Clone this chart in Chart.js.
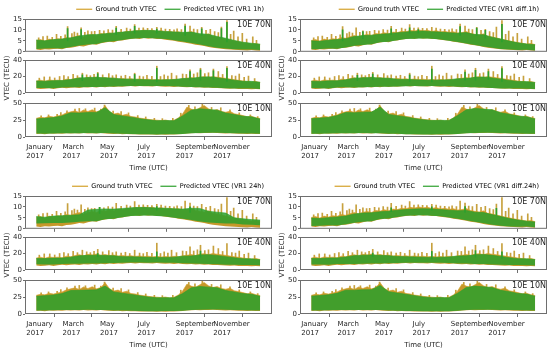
<!DOCTYPE html>
<html><head><meta charset="utf-8">
<script src="https://cdn.jsdelivr.net/npm/chart.js@4"></script>
<style>
html,body{margin:0;padding:0;background:#fff;width:550px;height:353px;overflow:hidden;position:relative;}
canvas{position:absolute;}
</style></head><body>
<script>
// ---------- axis / category data ----------
const TICK_DAYS = [0, 59, 120, 181, 243, 304, 365];
const TICK_LABELS = [['January','2017'],['March','2017'],['May','2017'],['July','2017'],['September','2017'],['November','2017'],''];
const DAYS_W = [0,7,14,21,28,35,42,49,56,63,70,77,84,91,98,105,112,119,126,133,140,147,154,161,168,175,182,189,196,203,210,217,224,231,238,245,252,259,266,273,280,287,294,301,308,315,322,329,336,343,350,357,364];
const DAYS_2W = [0,14,28,42,56,70,84,98,112,126,140,154,168,182,196,210,224,238,252,266,280,294,308,322,336,350,364];
const LAT_LABELS = ['10E 70N','10E 40N','10E 10N'];
const Y_MAX = [15, 40, 50];
const Y_STEP = [5, 20, 25];

// ---------- ground truth (weekly daily-max / daily-min envelope) ----------
const GT70_UP = [5.2,5.6,4.9,5.8,5.4, 6.0,5.7,6.5,6.2, 6.9,7.4,6.8,7.6, 7.9,7.5,8.4,8.1, 8.7,8.3,9.0,8.8,9.4, 9.2,9.8,9.5,10.0, 9.6,9.9,9.3,9.7,9.1, 9.4,8.9,9.2,8.6, 8.8,9.3,8.4,8.0, 7.7,8.2,7.1,6.8,6.3, 5.9,5.4,5.0,4.6, 4.2,3.9,3.6,3.8,3.3];
const GT70_LO = [1.0,0.8,1.2,1.0,1.3, 1.4,1.2,1.7,1.9, 2.2,2.6,2.4,3.0, 3.4,3.2,3.9,4.3, 4.6,4.4,5.0,5.2,5.6, 5.8,6.1,5.9,6.3, 6.0,6.2,5.8,5.9,5.5, 5.3,5.0,4.6,4.4, 4.0,3.7,3.2,3.0, 2.6,2.2,1.9,1.6,1.4, 1.2,1.0,0.9,0.8, 0.7,0.6,0.8,0.6,0.5];
const GT40_UP = [14.5,15.6,14.2,15.9,15.2, 15.6,14.9,16.8,16.1, 17.5,18.6,17.2,19.0, 18.3,19.4,17.9,18.8, 17.6,18.2,16.9,17.7,16.8, 17.3,16.5,17.1,16.2, 16.8,15.9,16.6,15.7,16.3, 15.8,16.7,16.0,17.2, 17.9,18.8,17.6,19.3, 19.8,18.7,20.1,19.2,18.5, 17.8,16.9,16.2,15.4, 14.6,13.9,13.2,14.0,12.8];
const GT40_LO = [5.5,4.8,5.2,5.8,5.0, 5.9,6.3,5.7,6.5, 6.8,6.2,7.0,6.6, 7.2,6.8,7.5,7.1, 7.8,7.3,8.0,7.6,8.2, 8.4,7.9,8.6,8.1, 8.3,7.8,8.5,8.0,7.7, 7.9,7.4,7.8,7.2, 7.0,7.4,6.8,7.1, 6.5,6.8,6.2,6.0,5.7, 5.5,5.1,5.4,4.9, 4.7,5.0,4.5,4.8,4.4];
const GT10_UP = [27.5,29.0,28.2,30.5,29.4, 31.0,32.5,35.5,37.0, 38.5,36.0,39.8,37.5, 40.2,37.0,39.0,46.0, 37.5,33.8,35.2,32.0,33.5, 30.2,29.5,27.8,27.0, 26.0,25.2,24.8,24.2,25.0, 23.6,24.8,28.0,34.0, 44.0,41.0,39.5,43.0, 46.5,41.5,39.0,40.5,37.5, 36.5,38.0,34.2,33.0, 31.5,29.8,30.6,28.4,27.2];
const GT10_LO = [4.5,4.8,4.2,5.0,4.6, 5.2,4.9,5.5,5.1, 5.6,5.0,5.8,5.3, 5.5,5.1,5.7,5.2, 4.8,4.5,4.9,4.2,4.4, 3.9,4.1,3.6,3.8, 3.5,3.7,3.3,3.6,3.4, 3.8,3.5,4.0,4.4, 5.0,5.4,5.8,5.5, 6.0,5.7,6.2,5.8,5.5, 5.3,5.6,5.1,4.9, 4.7,4.4,4.8,4.3,4.5];

// ground-truth short excursions (day, start value, peak value)
const GT70_SPK_D = [4,11,18,26,33,40,47,51,58,62,67,73,79,84,90,95,103,110,117,124,130,138,147,153,160,167,174,181,188,196,203,210,217,224,229,236,242,250,256,262,269,276,283,290,296,301,310,316,321,328,335,342,352,358];
const GT70_SPK_B = [4.5,4.5,4.5,4.5,5,5,5,5,5,6,6,6,6,6,6.5,7,7,7,7,7.8,7.8,7.8,7.8,8.5,8.5,8.5,8.5,8.5,8.5,8.5,8.5,8.5,8,8,8,8,7.5,7.5,7.5,7.5,7.5,6.2,6.2,6.2,6.2,6.2,4.5,4.5,4.5,4.5,3.2,3.2,3.2,3.2];
const GT70_SPK_T = [6.4,7.0,7.2,6.6,8.0,7.1,7.8,11.5,8.3,9.0,8.6,11.0,8.9,9.6,9.2,9.4,9.8,9.6,10.2,9.9,11.6,10.3,10.8,10.4,12.4,10.9,11.0,10.7,10.6,11.2,10.8,10.4,10.3,10.0,10.5,10.2,12.7,11.8,10.4,10.2,11.2,9.8,10.3,9.2,8.8,11.3,14.3,8.0,9.5,6.9,8.5,5.8,6.8,5.2];
const GT40_SPK_D = [5,13,22,30,38,45,52,60,67,75,82,88,94,100,108,118,124,130,138,145,152,160,168,174,180,188,196,202,208,214,220,228,238,244,250,256,262,267,274,280,288,296,303,310,318,324,330,338,345,355];
const GT40_SPK_B = [12,12,12,12,13,13,13,15,15,15,15,15,16,16,16,16,15,15,15,15,14,14,14,14,13.5,13.5,13.5,13.5,13.5,14,14,14,14,15.5,15.5,15.5,15.5,15.5,16.5,16.5,16.5,16.5,16.5,14,14,14,14,11.5,11.5,11.5];
const GT40_SPK_T = [18.0,19.5,19.5,18.2,20.0,21.0,19.8,22.5,21.0,24.0,22.0,21.0,22.5,25.0,22.0,23.5,21.0,22.0,20.5,21.5,20.0,24.0,20.5,19.8,21.5,20.2,32.5,20.0,22.0,20.5,24.0,21.0,23.0,22.5,28.0,23.0,24.5,30.0,23.5,24.5,29.0,26.0,22.5,32.0,21.0,20.5,23.0,19.0,20.5,17.5];
const GT10_SPK_D = [8,20,34,40,50,63,70,80,95,105,111,125,138,150,165,178,192,205,222,235,248,258,270,285,300,315,330,348,360];
const GT10_SPK_B = [25,25,27,28,31,33,33,34,35,35,36,31,30,28,25,23,22,21,21,26,36,36,38,36,34,32,30,26,24];
const GT10_SPK_T = [31.0,32.5,33.5,36.0,38.5,41.0,42.0,41.5,42.5,41.0,47.0,38.0,37.5,35.5,31.5,29.5,27.5,27.0,27.5,35.0,46.5,44.5,48.5,43.5,43.0,40.0,35.5,32.5,30.0];

// ---------- predictions, top-left: VR1 1h ----------
const TL_P70_UP = [5.4,5.0,5.6,5.9,6.4,7.2,7.8,7.9,8.3,8.6,9.0,9.4,9.7,9.8,9.6,9.3,9.1,8.9,9.0,8.3,8.0,7.0,6.2,5.2,4.4,3.9,3.5];
const TL_P70_LO = [1.3,1.5,1.6,1.5,2.2,2.9,3.3,3.6,4.5,4.8,5.4,6.0,6.2,6.3,6.1,5.8,5.3,4.7,4.0,3.3,2.5,1.9,1.5,1.2,1.0,1.0,0.8];
const TL_P40_UP = [14.6,14.3,15.0,15.2,16.4,18.2,18.8,19.0,18.5,18.0,17.0,16.8,16.4,16.0,15.8,16.0,16.3,17.6,17.8,19.2,19.6,18.6,17.0,15.6,14.2,14.1,13.0];
const TL_P40_LO = [6.2,6.0,5.8,6.8,7.0,6.9,7.2,7.4,7.6,7.9,8.2,8.5,8.6,8.4,8.5,8.4,8.3,7.6,7.4,7.0,6.8,6.3,5.8,5.6,5.6,5.4,5.0];
const TL_P10_UP = [26.5,27.6,28.5,31.0,35.5,35.2,36.0,36.2,43.0,33.0,31.0,29.2,27.0,25.2,24.0,24.3,24.0,31.0,39.5,41.5,40.5,39.5,35.2,33.0,30.5,29.6,26.3];
const TL_P10_LO = [5.0,4.8,5.2,5.5,5.6,5.5,5.8,5.6,5.7,5.0,4.7,4.3,4.1,3.9,3.8,4.0,4.0,4.5,5.5,6.0,6.2,6.2,5.8,5.5,5.2,5.0,4.9];
const TL_P70_SD = [51,73,130,160,196,242,269,301,310];
const TL_P70_SB = [5,6,7.8,8.5,8.5,7.5,7.5,6.2,4.5];
const TL_P70_ST = [10.6,10.2,10.8,11.6,10.4,11.8,10.5,10.6,13.5];
const TL_P40_SD = [75,100,160,196,250,267,288,310];
const TL_P40_SB = [15,16,14,13.5,15.5,15.5,16.5,14];
const TL_P40_ST = [22.0,23.5,22.5,30.0,26.0,28.0,27.0,30.0];

// ---------- predictions, top-right: VR1 diff.1h ----------
const TR_P70_UP = [5.0,4.8,5.3,5.6,6.0,7.0,7.4,7.6,8.0,8.3,8.7,9.1,9.3,9.5,9.2,9.0,8.7,8.5,8.8,7.9,7.8,6.7,5.8,4.9,4.1,3.6,3.2];
const TR_P70_LO = [1.2,1.3,1.5,1.4,2.0,2.8,3.1,3.4,4.4,4.6,5.3,5.9,6.0,6.1,6.0,5.6,5.1,4.5,3.8,3.1,2.4,1.8,1.3,1.0,0.8,0.9,0.6];
const TR_P40_UP = [14.2,14.0,14.7,14.8,16.0,18.0,18.5,18.8,18.3,17.8,16.7,16.4,16.1,15.7,15.6,15.8,16.0,17.4,17.5,19.0,19.4,18.3,16.8,15.3,13.9,13.8,12.7];
const TR_P40_LO = [6.0,5.8,5.6,6.7,6.9,6.7,7.0,7.2,7.5,7.7,8.0,8.3,8.5,8.2,8.4,8.3,8.1,7.5,7.2,6.9,6.6,6.1,5.6,5.4,5.5,5.2,4.9];
const TR_P10_UP = [26.8,27.8,28.8,31.5,36.0,35.6,36.5,36.6,44.0,33.2,31.3,29.5,27.2,25.5,24.2,24.5,24.3,31.5,40.0,42.0,41.0,40.0,35.6,33.4,30.8,29.9,26.6];
const TR_P10_LO = [4.9,4.7,5.1,5.4,5.5,5.4,5.7,5.5,5.6,4.9,4.6,4.2,4.0,3.8,3.7,3.9,3.9,4.4,5.4,5.9,6.1,6.1,5.7,5.4,5.1,4.9,4.8];
const TR_P70_SD = [51,84,130,160,174,242,269,283,310];
const TR_P70_SB = [5,6,7.8,8.5,8.5,7.5,7.5,6.2,4.5];
const TR_P70_ST = [10.0,9.2,10.5,11.0,10.2,11.5,10.8,9.8,12.6];
const TR_P40_SD = [75,100,160,196,250,267,288,310];
const TR_P40_SB = [15,16,14,13.5,15.5,15.5,16.5,14];
const TR_P40_ST = [21.5,23.0,22.0,29.0,25.5,27.5,26.0,29.5];

// ---------- predictions, bottom-left: VR1 24h ----------
const BL_P70_UP = [5.6,5.3,5.8,6.0,6.2,6.4,8.6,8.9,9.1,9.0,9.3,9.6,9.8,9.7,9.5,9.4,9.2,9.0,9.4,9.3,8.0,7.6,7.2,5.0,4.6,4.2,4.0];
const BL_P70_LO = [2.4,2.5,2.7,2.6,2.9,3.2,3.4,3.5,4.4,4.6,5.3,5.9,6.0,6.1,5.9,5.6,5.1,4.6,4.0,3.3,2.9,2.6,2.4,2.4,2.0,1.8,1.6];
const BL_P40_UP = [13.8,13.9,14.4,14.5,15.6,17.2,17.8,18.0,17.6,17.2,16.2,16.0,15.8,15.4,15.2,15.3,15.6,16.8,17.0,18.2,18.6,17.6,16.2,14.8,13.6,13.5,12.5];
const BL_P40_LO = [7.0,6.8,6.6,7.4,7.6,7.5,7.8,8.0,8.2,8.5,8.8,9.0,9.1,8.9,9.0,8.9,8.8,8.2,8.0,7.6,7.4,7.0,6.5,6.3,6.2,6.0,5.8];
const BL_P10_UP = [26.0,27.0,28.0,30.0,34.5,34.8,35.2,35.5,41.0,32.5,30.5,28.8,26.8,25.0,23.8,24.0,23.8,30.0,38.5,40.5,39.5,38.5,34.5,32.5,30.0,29.0,26.0];
const BL_P10_LO = [5.3,5.1,5.5,5.8,5.9,5.8,6.1,5.9,6.0,5.3,5.0,4.6,4.4,4.2,4.1,4.3,4.3,4.8,5.8,6.3,6.5,6.5,6.1,5.8,5.5,5.3,5.2];
const BL_P70_SD = [103,196,250];
const BL_P70_SB = [7,8.5,7.5];
const BL_P70_ST = [9.8,10.2,10.0];
const BL_P40_SD = [100,196,267];
const BL_P40_SB = [16,13.5,15.5];
const BL_P40_ST = [20.0,22.0,23.0];

// ---------- predictions, bottom-right: VR1 diff.24h ----------
const BR_P70_UP = [4.9,4.7,5.1,5.4,5.8,6.8,7.2,7.3,7.8,8.0,8.5,8.8,9.0,9.2,9.0,8.8,8.5,8.2,8.4,7.6,7.4,6.5,5.6,4.7,4.0,3.5,3.1];
const BR_P70_LO = [1.3,1.4,1.6,1.5,2.1,2.8,3.2,3.5,4.5,4.7,5.4,6.0,6.1,6.2,6.0,5.7,5.2,4.6,3.9,3.2,2.5,1.9,1.4,1.1,0.9,1.0,0.7];
const BR_P40_UP = [13.9,13.8,14.5,14.6,15.8,17.4,18.0,18.2,17.8,17.4,16.4,16.1,15.9,15.5,15.3,15.5,15.8,17.0,17.2,18.4,18.8,17.8,16.4,15.0,13.7,13.6,12.6];
const BR_P40_LO = [6.8,6.6,6.4,7.2,7.4,7.3,7.6,7.8,8.0,8.3,8.6,8.8,8.9,8.7,8.8,8.7,8.6,8.0,7.8,7.4,7.2,6.8,6.3,6.1,6.0,5.8,5.6];
const BR_P10_UP = [26.2,27.2,28.2,30.4,35.0,35.0,35.6,35.8,42.0,32.8,30.8,29.0,27.0,25.1,23.9,24.1,23.9,30.5,39.0,41.0,40.0,39.0,34.8,32.8,30.2,29.3,26.2];
const BR_P10_LO = [5.2,5.0,5.4,5.7,5.8,5.7,6.0,5.8,5.9,5.2,4.9,4.5,4.3,4.1,4.0,4.2,4.2,4.7,5.7,6.2,6.4,6.4,6.0,5.7,5.4,5.2,5.1];
const BR_P70_SD = [130,196,250,301];
const BR_P70_SB = [7.8,8.5,7.5,6.2];
const BR_P70_ST = [9.6,10.0,10.2,9.4];
const BR_P40_SD = [100,196,267,310];
const BR_P40_SB = [16,13.5,15.5,14];
const BR_P40_ST = [20.5,22.5,23.5,22.0];

const NO_SPK = [];

// ---------- styling ----------
const GT_COLOR = '#d4a12a';
const GT_FILL = 'rgba(198,152,42,1)';
const GT_SPIKE = 'rgba(196,156,52,0.95)';
const PRED_COLOR = '#2ca02c';
const PRED_FILL = 'rgba(44,160,44,0.86)';
const AXIS_COLOR = '#6e6e6e';
const TEXT = '#262626';

Chart.defaults.font.family = '"DejaVu Sans", sans-serif';
Chart.defaults.font.size = 7;
Chart.defaults.color = TEXT;

const GT_SETS = [
  {up: GT70_UP, lo: GT70_LO, sd: GT70_SPK_D, sb: GT70_SPK_B, st: GT70_SPK_T},
  {up: GT40_UP, lo: GT40_LO, sd: GT40_SPK_D, sb: GT40_SPK_B, st: GT40_SPK_T},
  {up: GT10_UP, lo: GT10_LO, sd: GT10_SPK_D, sb: GT10_SPK_B, st: GT10_SPK_T}
];

const PANELS = [
  {x: 0, y: 0, model: 'VR1 1h', pred: [
    {up: TL_P70_UP, lo: TL_P70_LO, sd: TL_P70_SD, sb: TL_P70_SB, st: TL_P70_ST},
    {up: TL_P40_UP, lo: TL_P40_LO, sd: TL_P40_SD, sb: TL_P40_SB, st: TL_P40_ST},
    {up: TL_P10_UP, lo: TL_P10_LO, sd: NO_SPK, sb: NO_SPK, st: NO_SPK}]},
  {x: 275, y: 0, model: 'VR1 diff.1h', pred: [
    {up: TR_P70_UP, lo: TR_P70_LO, sd: TR_P70_SD, sb: TR_P70_SB, st: TR_P70_ST},
    {up: TR_P40_UP, lo: TR_P40_LO, sd: TR_P40_SD, sb: TR_P40_SB, st: TR_P40_ST},
    {up: TR_P10_UP, lo: TR_P10_LO, sd: NO_SPK, sb: NO_SPK, st: NO_SPK}]},
  {x: 0, y: 177, model: 'VR1 24h', pred: [
    {up: BL_P70_UP, lo: BL_P70_LO, sd: BL_P70_SD, sb: BL_P70_SB, st: BL_P70_ST},
    {up: BL_P40_UP, lo: BL_P40_LO, sd: BL_P40_SD, sb: BL_P40_SB, st: BL_P40_ST},
    {up: BL_P10_UP, lo: BL_P10_LO, sd: NO_SPK, sb: NO_SPK, st: NO_SPK}]},
  {x: 275, y: 177, model: 'VR1 diff.24h', pred: [
    {up: BR_P70_UP, lo: BR_P70_LO, sd: BR_P70_SD, sb: BR_P70_SB, st: BR_P70_ST},
    {up: BR_P40_UP, lo: BR_P40_LO, sd: BR_P40_SD, sb: BR_P40_SB, st: BR_P40_ST},
    {up: BR_P10_UP, lo: BR_P10_LO, sd: NO_SPK, sb: NO_SPK, st: NO_SPK}]}
];

// canvas geometry of the three stacked sub-plots inside a panel
const SUB_GEOM = [
  {top: -2, height: 59, padTop: 0, padBottom: 0, xh: 4},
  {top: 53, height: 48, padTop: 7, padBottom: 4, xh: 4},
  {top: 97, height: 80, padTop: 6, padBottom: 5, xh: 35}
];

const decoPlugin = {
  id: 'deco',
  afterDatasetsDraw(chart, args, opts) {
    const ctx = chart.ctx, a = chart.chartArea;
    ctx.save();
    ctx.strokeStyle = AXIS_COLOR;
    ctx.lineWidth = 1;
    ctx.strokeRect(a.left + 0.5, a.top + 0.5, a.right - a.left - 1, a.bottom - a.top - 1);
    ctx.fillStyle = TEXT;
    ctx.font = '8px "DejaVu Sans"';
    ctx.textAlign = 'right';
    ctx.textBaseline = 'top';
    ctx.fillText(opts.label, a.right - 1, a.top + 2);
    if (opts.ytitle) {
      ctx.translate(opts.tx, opts.ty);
      ctx.rotate(-Math.PI / 2);
      ctx.font = '7px "DejaVu Sans"';
      ctx.textAlign = 'center';
      ctx.textBaseline = 'middle';
      ctx.fillText('VTEC (TECU)', 0, 0);
    }
    ctx.restore();
  }
};

function pts(days, vals) { return days.map((d, i) => ({x: d, y: vals[i]})); }
function spk(days, base, top) { return days.map((d, i) => ({x: d, y: [base[i], top[i]]})); }

function makeSub(panel, lat) {
  const g = SUB_GEOM[lat];
  const cv = document.createElement('canvas');
  cv.width = 275; cv.height = g.height;
  cv.style.left = panel.x + 'px';
  cv.style.top = (panel.y + g.top) + 'px';
  cv.style.width = '275px'; cv.style.height = g.height + 'px';
  document.body.appendChild(cv);
  const P = panel.pred[lat], G = GT_SETS[lat];
  const datasets = [
    {type: 'line', data: pts(DAYS_2W, P.up), fill: 1, backgroundColor: PRED_FILL, borderColor: PRED_COLOR, borderWidth: 0.6, pointRadius: 0, tension: 0, order: 0},
    {type: 'line', data: pts(DAYS_2W, P.lo), fill: false, borderColor: 'rgba(0,0,0,0)', borderWidth: 1, pointRadius: 0, tension: 0, order: 0},
    {type: 'bar', data: spk(P.sd, P.sb, P.st), backgroundColor: PRED_COLOR, borderWidth: 0, barThickness: 1, grouped: false, order: 1},
    {type: 'line', data: pts(DAYS_W, G.up), fill: 4, backgroundColor: GT_FILL, borderColor: GT_COLOR, borderWidth: 0.6, pointRadius: 0, tension: 0, order: 2},
    {type: 'line', data: pts(DAYS_W, G.lo), fill: false, borderColor: 'rgba(0,0,0,0)', borderWidth: 1, pointRadius: 0, tension: 0, order: 2},
    {type: 'bar', data: spk(G.sd, G.sb, G.st), backgroundColor: GT_SPIKE, borderWidth: 0, barThickness: 1, grouped: false, order: 3}
  ];
  const isLast = lat === 2;
  new Chart(cv, {
    type: 'line',
    data: {datasets},
    plugins: [decoPlugin],
    options: {
      responsive: false, animation: false, devicePixelRatio: 1, events: [],
      layout: {padding: {left: 0, right: 3, top: g.padTop, bottom: g.padBottom}},
      plugins: {
        tooltip: {enabled: false},
        deco: {label: LAT_LABELS[lat], ytitle: lat === 1, tx: 7, ty: 78 - g.top},
        legend: {
          display: lat === 0, position: 'top', align: 'end', fullSize: false, maxHeight: 21,
          labels: {
            usePointStyle: true, pointStyleWidth: 16, boxHeight: 6, padding: 8,
            font: {size: 6.5}, color: TEXT,
            generateLabels: () => [
              {text: 'Ground truth VTEC', strokeStyle: GT_COLOR, fillStyle: GT_COLOR, lineWidth: 1.2, pointStyle: 'line', hidden: false, datasetIndex: 3},
              {text: 'Predicted VTEC (' + panel.model + ')', strokeStyle: PRED_COLOR, fillStyle: PRED_COLOR, lineWidth: 1.2, pointStyle: 'line', hidden: false, datasetIndex: 0}
            ]
          }
        }
      },
      scales: {
        x: {
          type: 'linear', min: -18.25, max: 383.25, offset: false,
          afterBuildTicks: s => { s.ticks = TICK_DAYS.map(v => ({value: v})); },
          afterFit: s => { s.height = g.xh; },
          grid: {display: true, drawOnChartArea: false, drawTicks: true, tickLength: 3, color: AXIS_COLOR},
          border: {display: false},
          ticks: {display: isLast, autoSkip: false, maxRotation: 0, minRotation: 0, padding: 2.5,
                  align: 'start', labelOffset: -10,
                  font: {size: 7, lineHeight: '9px'}, color: TEXT,
                  callback: v => TICK_LABELS[TICK_DAYS.indexOf(v)]},
          title: {display: isLast, text: 'Time (UTC)', font: {size: 7}, padding: {top: 0, bottom: 0}, color: TEXT}
        },
        y: {
          type: 'linear', min: 0, max: Y_MAX[lat],
          afterFit: s => { s.width = 25; },
          grid: {display: true, drawOnChartArea: false, drawTicks: true, tickLength: 2, color: AXIS_COLOR},
          border: {display: false},
          ticks: {stepSize: Y_STEP[lat], autoSkip: false, padding: 1, font: {size: 7}, color: TEXT}
        }
      }
    }
  });
}

PANELS.forEach(p => { for (let lat = 0; lat < 3; lat++) makeSub(p, lat); });
</script>
</body></html>
